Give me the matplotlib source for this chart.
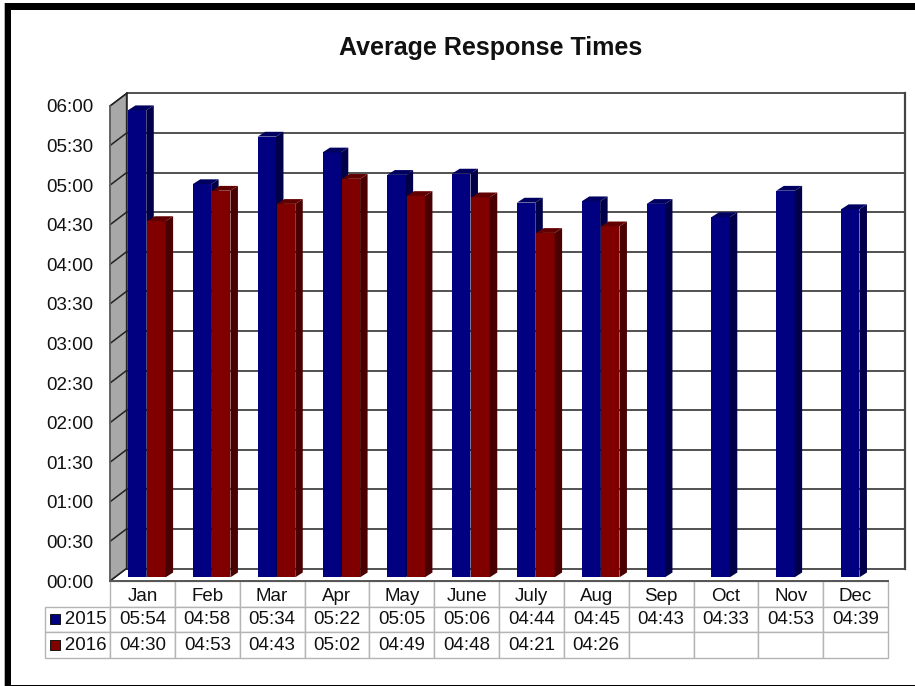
import numpy as np
import matplotlib
matplotlib.use("Agg")
import matplotlib.pyplot as plt
from matplotlib.patches import Polygon, Rectangle

plt.rcParams["font.family"] = ["Liberation Sans", "DejaVu Sans"]

months = ["Jan", "Feb", "Mar", "Apr", "May", "June", "July", "Aug", "Sep", "Oct", "Nov", "Dec"]
times_2015 = ["05:54", "04:58", "05:34", "05:22", "05:05", "05:06", "04:44", "04:45", "04:43", "04:33", "04:53", "04:39"]
times_2016 = ["04:30", "04:53", "04:43", "05:02", "04:49", "04:48", "04:21", "04:26"]
tick_labels = ["00:00", "00:30", "01:00", "01:30", "02:00", "02:30", "03:00",
               "03:30", "04:00", "04:30", "05:00", "05:30", "06:00"]


def to_min(s):
    h, m = s.split(":")
    return int(h) * 60 + int(m)


vals_2015 = np.array([to_min(t) for t in times_2015])
vals_2016 = np.array([to_min(t) for t in times_2016])
ticks = np.array([to_min(t) for t in tick_labels])

W, H = 915, 686
fig = plt.figure(figsize=(W / 100, H / 100), dpi=100, facecolor="white")

# axes = the front plane of the fake 3d box, in pixels of the picture
left, right, top, bottom = 110, 888, 106, 581
ax = fig.add_axes([left / W, 1 - bottom / H, (right - left) / W, (bottom - top) / H])
ax.set_xlim(0, 12)
ax.set_ylim(0, 360)
ax.patch.set_visible(False)
for s in ax.spines.values():
    s.set_visible(False)

px = 12 / (right - left)  # one pixel in x data units
py = 360 / (bottom - top)  # one pixel in y data units

# depth of the box
dx, dy = 16.5 * px, 12.5 * py
line_kw = dict(color="#222222", lw=1.1, clip_on=False)

ax.add_patch(Polygon([(0, 0), (dx, dy), (dx, 360 + dy), (0, 360)], closed=True,
                     facecolor="#a8a8a8", edgecolor="#333333", lw=1.0, clip_on=False, zorder=1))
for t in ticks:
    ax.plot([0, dx], [t, t + dy], zorder=2, **line_kw)
    ax.plot([dx, 12 + dx], [t + dy, t + dy], zorder=2, **line_kw)
ax.plot([12 + dx, 12 + dx], [dy, 360 + dy], zorder=2, color="#444444", lw=1.6, clip_on=False)
ax.plot([dx, dx], [dy, 360 + dy], zorder=2, **line_kw)
ax.plot([0, 0], [0, 360], zorder=2, color="#666666", lw=1.2, clip_on=False)

# bars, with side and top faces added by hand
bar_w = 18.3 * px
bar_off = 18 * px
bar_base = 3.7 * py
bx, by = 7.5 * px, 4.8 * py


def draw_bars(xs, vals, front, side, roof, z):
    ax.bar(xs, vals, bar_w, bottom=bar_base, align="edge", color=front, clip_on=False, zorder=z)
    for x, v in zip(xs, vals):
        y1 = v + bar_base
        ax.add_patch(Polygon([(x + bar_w, bar_base), (x + bar_w + bx, bar_base + by),
                              (x + bar_w + bx, y1 + by), (x + bar_w, y1)],
                             closed=True, facecolor=side, edgecolor="none", clip_on=False, zorder=z))
        ax.add_patch(Polygon([(x, y1), (x + bx, y1 + by), (x + bar_w + bx, y1 + by), (x + bar_w, y1)],
                             closed=True, facecolor=roof, edgecolor="none", clip_on=False, zorder=z))


x_pos = np.arange(12)
for i in range(12):
    draw_bars([x_pos[i] + bar_off], [vals_2015[i]], "#000080", "#00004a", "#000060", 3 + i)
    if i < len(vals_2016):
        draw_bars([x_pos[i] + bar_off + bar_w + px], [vals_2016[i]], "#800000", "#4a0000", "#600000", 3 + i)

ax.set_xticks([])
ax.set_yticks(ticks)
ax.set_yticklabels(tick_labels, fontsize=13.5, color="#111111")
ax.tick_params(axis="y", length=0, pad=12)

# data table under the plot, first column holds the series names
label_w = 65
plot_w = right - left
rows = [[""] * 13,
        ["   2015"] + times_2015,
        ["   2016"] + times_2016 + [""] * (12 - len(times_2016))]
tbl = ax.table(cellText=rows, cellLoc="center",
               colWidths=[label_w / (plot_w + label_w)] + [plot_w / 12 / (plot_w + label_w)] * 12,
               bbox=[-label_w / plot_w, -77 / (bottom - top), 1 + label_w / plot_w, 77 / (bottom - top)])
tbl.auto_set_font_size(False)
tbl.set_fontsize(13.5)
for (r, c), cell in tbl.get_celld().items():
    cell.set_edgecolor("#b4b4b4")
    cell.set_linewidth(1.0)
    cell.get_text().set_color("#111111")
    cell.set_zorder(1)
tbl[(0, 0)].set_visible(False)
ax.plot([0, 12], [0, 0], color="#555555", lw=1.4, clip_on=False, zorder=2.5)

# month names sit a bit low in their cells, so they are placed by hand
for i, m in enumerate(months):
    ax.text(i + 0.5, -15.5 * py, m, fontsize=13.5, color="#111111", ha="center", va="center", clip_on=False)

# legend keys inside the row labels
ax.scatter([-55 * px], [-38 * py], marker="s", s=50, color="#000080", edgecolor="black", lw=0.6, clip_on=False, zorder=5)
ax.scatter([-55 * px], [-64 * py], marker="s", s=50, color="#800000", edgecolor="black", lw=0.6, clip_on=False, zorder=5)

fig.text(490.5 / W, 1 - 47.5 / H, "Average Response Times", fontsize=18, fontweight="bold",
         ha="center", va="center", color="#111111")

# black picture frame
for x0, y0, w, h in [(5, 3, W - 5, 7), (5, 3, 6, H - 3), (5, 684.5, W - 5, 1.5)]:
    fig.add_artist(Rectangle((x0 / W, 1 - (y0 + h) / H), w / W, h / H, transform=fig.transFigure,
                             facecolor="black", edgecolor="none"))
fig.add_artist(Rectangle((3.5 / W, 0), 1.5 / W, 1 - 3 / H, transform=fig.transFigure,
                         facecolor="#b0b0b0", edgecolor="none"))

fig.savefig("out.png", dpi=100)
